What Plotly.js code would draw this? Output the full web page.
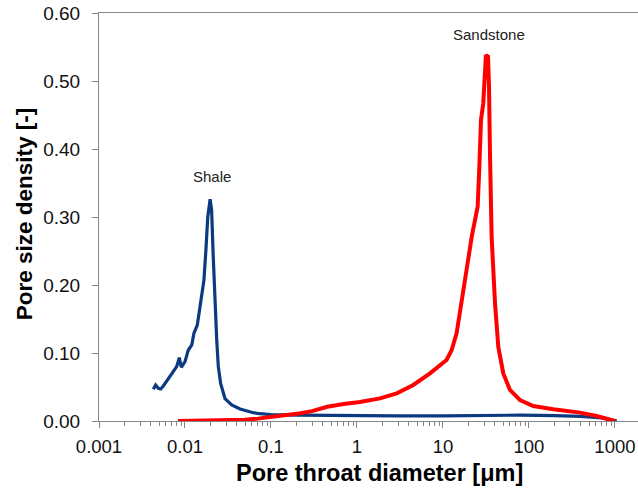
<!DOCTYPE html>
<html>
<head>
<meta charset="utf-8">
<script src="https://cdn.plot.ly/plotly-3.0.1.min.js"></script>
<style>html,body{margin:0;padding:0;background:#fff;}#chart{width:638px;height:488px;}</style>
</head>
<body>
<div id="chart"></div>
<script>
// Shale (blue) series
const shaleDiameter = [0.00428,0.00456,0.0049,0.00521,0.0056,0.00612,0.0067,0.00731,0.008,0.00859,0.00906,0.01,0.0109,0.012,0.0127,0.0139,0.0147,0.0156,0.0166,0.0175,0.0184,0.0196,0.0204,0.0213,0.0223,0.0234,0.0244,0.026,0.0292,0.0349,0.0437,0.0622,0.0745,0.1,0.2,0.5,1,3,10,30,80,200,400,700,900,1050];
const shaleDensity  = [0.0466,0.0529,0.0481,0.0471,0.0515,0.0588,0.0652,0.0725,0.0799,0.0931,0.079,0.0872,0.104,0.112,0.129,0.141,0.161,0.178,0.207,0.251,0.300,0.326,0.310,0.242,0.168,0.119,0.080,0.055,0.033,0.0235,0.0176,0.0122,0.0107,0.0095,0.0085,0.008,0.0076,0.0075,0.0076,0.0082,0.0086,0.008,0.0068,0.0044,0.002,0.0];

// Sandstone (red) series
const sandDiameter = [0.0083,0.02,0.03,0.05,0.07,0.1,0.15,0.22,0.3,0.45,0.7,1.08,1.85,2.9,4.52,7.06,11.0,12.6,14.4,16.5,18.8,21.6,23.6,25.3,26.4,27.7,29.4,30.8,31.6,33.4,34.3,35.2,36.8,40.3,44.0,50.3,60.1,78.6,112,192,392,612,875,1000];
const sandDensity  = [0,0.0003,0.0008,0.002,0.0035,0.0055,0.009,0.0113,0.0145,0.021,0.025,0.028,0.0333,0.0407,0.053,0.070,0.0897,0.104,0.129,0.173,0.222,0.271,0.298,0.315,0.369,0.443,0.467,0.516,0.538,0.536,0.492,0.394,0.271,0.173,0.109,0.070,0.0456,0.0309,0.022,0.0172,0.0123,0.0074,0.0015,0];

// Axis ticks
const xTickVals = [0.001,0.01,0.1,1,10,100,1000];
const xTickText = ["0.001","0.01","0.1","1","10","100","1000"];
const yTickVals = [0,0.1,0.2,0.3,0.4,0.5,0.6];
const yTickText = ["0.00","0.10","0.20","0.30","0.40","0.50","0.60"];

// Labels
const seriesNames = ["Shale","Sandstone"];
const xTitle = "Pore throat diameter [\u03bcm]";
const yTitle = "Pore size density [-]";

const minorVals = [];
for (let e = -3; e <= 3; e++) {
  for (let m = 2; m <= 9; m++) minorVals.push(m * Math.pow(10, e));
}

const axisColor = '#868686';
const font = 'Liberation Sans, Arial, sans-serif';

const traces = [
  {x: shaleDiameter, y: shaleDensity, name: seriesNames[0], mode: 'lines',
   line: {color: '#0B3A80', width: 3.2}},
  {x: sandDiameter, y: sandDensity, name: seriesNames[1], mode: 'lines',
   line: {color: '#FF0000', width: 4}}
];

const layout = {
  width: 638, height: 488,
  margin: {l: 99, r: 0, t: 13, b: 67, pad: 0},
  showlegend: false,
  paper_bgcolor: '#fff', plot_bgcolor: '#fff',
  font: {family: font, color: '#111'},
  xaxis: {
    type: 'log', range: [-3, 3.268],
    tickmode: 'array', tickvals: xTickVals, ticktext: xTickText,
    ticks: 'outside', ticklen: 6, tickcolor: axisColor, tickwidth: 1,
    ticklabelstandoff: 3,
    minor: {tickmode: 'array', tickvals: minorVals, ticks: 'outside', ticklen: 4, tickcolor: axisColor, showgrid: false},
    showline: true, linecolor: axisColor, linewidth: 1, mirror: true,
    showgrid: false, zeroline: false,
    tickfont: {size: 18.5, family: font, color: '#111'}
  },
  yaxis: {
    range: [0, 0.6],
    tickmode: 'array', tickvals: yTickVals, ticktext: yTickText,
    ticks: 'outside', ticklen: 6, tickcolor: axisColor, tickwidth: 1,
    ticklabelstandoff: 8,
    showline: true, linecolor: axisColor, linewidth: 1,
    showgrid: false, zeroline: false,
    tickfont: {size: 19, family: font, color: '#111'}
  },
  annotations: [
    {text: seriesNames[0], x: Math.log10(0.0206), y: 0.359, xref: 'x', yref: 'y',
     showarrow: false, font: {size: 15, family: font, color: '#222'}},
    {text: seriesNames[1], x: 1.538, y: 0.568, xref: 'x', yref: 'y',
     showarrow: false, font: {size: 15, family: font, color: '#222'}},
    {text: '<b>' + xTitle + '</b>', x: 0.5204, y: -0.128, xref: 'paper', yref: 'paper',
     xanchor: 'center', yanchor: 'middle', showarrow: false,
     font: {size: 23.5, family: font, color: '#000'}},
    {text: '<b>' + yTitle + '</b>', x: -0.139, y: 0.507, xref: 'paper', yref: 'paper',
     xanchor: 'center', yanchor: 'middle', textangle: -90, showarrow: false,
     font: {size: 22.5, family: font, color: '#000'}}
  ]
};

Plotly.newPlot('chart', traces, layout, {displayModeBar: false, staticPlot: true});
</script>
</body>
</html>
